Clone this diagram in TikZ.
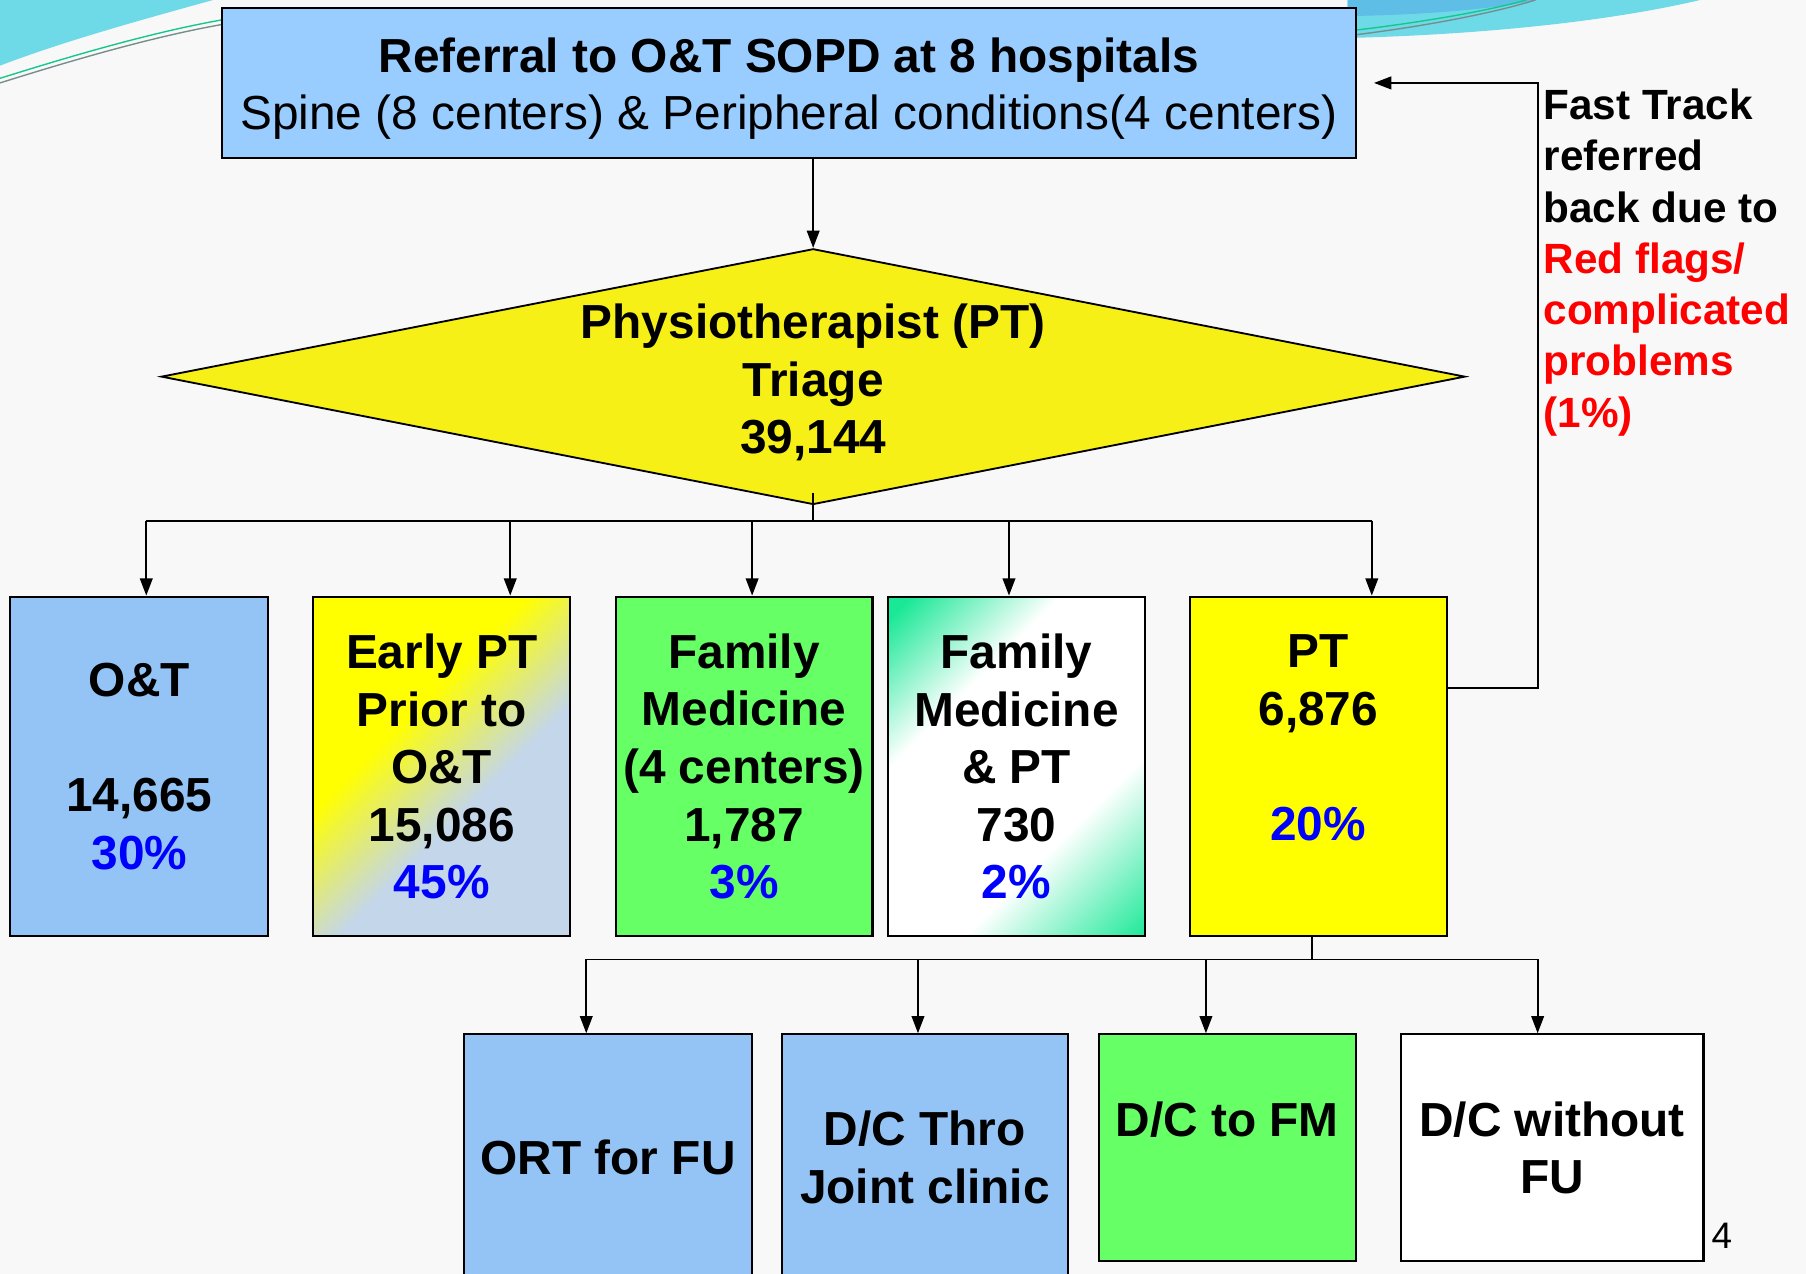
\documentclass[tikz,border=0pt]{standalone}
\usepackage{fontspec}
\setmainfont{Liberation Sans}
\usetikzlibrary{shapes.geometric,arrows.meta,calc}
\definecolor{topblue}{RGB}{153,204,255}
\definecolor{oblue}{RGB}{147,196,245}
\definecolor{diayellow}{RGB}{246,240,22}
\definecolor{ptyellow}{RGB}{255,255,0}
\definecolor{fmgreen}{RGB}{102,255,102}
\definecolor{spring}{RGB}{25,232,150}
\definecolor{greyblue}{RGB}{196,214,234}
\definecolor{pctblue}{RGB}{0,0,255}
\definecolor{flagred}{RGB}{255,0,0}
\definecolor{bgcol}{RGB}{248,248,248}
\definecolor{swcyan}{RGB}{110,218,232}
\definecolor{swblue}{RGB}{95,190,230}
\definecolor{swgreen}{RGB}{20,200,140}
\definecolor{swgrey}{RGB}{120,140,140}
\pgfdeclarehorizontalshading{earlypt}{100bp}{color(0bp)=(ptyellow); color(40bp)=(ptyellow); color(58bp)=(greyblue); color(100bp)=(greyblue)}
\pgfdeclarehorizontalshading{fmptshade}{100bp}{color(0bp)=(spring); color(17bp)=(spring); color(35bp)=(white); color(64bp)=(white); color(86bp)=(spring); color(100bp)=(spring)}
\begin{document}
\begin{tikzpicture}[x=1pt,y=-1pt,
  bigfont/.style={font=\bfseries\fontsize{41.5}{50}\selectfont},
  box/.style={draw=black, line width=1.8pt, inner sep=0pt, align=center, bigfont},
  rowone/.style={box, minimum width=223, minimum height=295},
  conn/.style={line width=1.6pt, draw=black},
  arr/.style={conn, -{Triangle[length=15pt,width=11pt]}}]
\useasboundingbox (0,0) rectangle (1568,1106);
\clip (0,0) rectangle (1568,1106);
\fill[bgcol] (0,0) rectangle (1568,1106);
% decorative swooshes
\fill[swcyan] (0,0) -- (185,0) .. controls (120,18) and (55,36) .. (0,57) -- cycle;
\draw[swgrey, line width=1.2pt] (0,72) .. controls (70,50) and (140,30) .. (200,20);
\draw[swgreen, line width=1.2pt] (0,68) .. controls (70,46) and (140,26) .. (200,16);
\fill[swcyan] (1170,0) -- (1476,0) .. controls (1400,18) and (1290,30) .. (1170,33) -- cycle;
\fill[swblue] (1170,0) -- (1335,0) .. controls (1290,9) and (1230,13) .. (1170,14) -- cycle;
\draw[swgreen, line width=1.2pt] (1170,27) .. controls (1230,20) and (1290,10) .. (1325,0);
\draw[swgrey, line width=1.2pt] (1170,31) .. controls (1230,24) and (1295,12) .. (1333,0);
% nodes
\node[box, fill=topblue, minimum width=984, minimum height=130] (top) at (685,72)
  {\rule{0pt}{40pt}Referral to O\&T SOPD at 8 hospitals\\{\mdseries Spine (8 centers) \& Peripheral conditions(4 centers)}};
\node[diamond, draw=black, line width=1.6pt, fill=diayellow, minimum width=1132, minimum height=222, inner sep=0pt] (dia) at (706,327) {};
\node[bigfont, align=center, inner sep=0pt] (diatext) at (706,332) {Physiotherapist (PT)\\Triage\\39,144};
\node[rowone, fill=oblue, minimum width=224] (ot) at (121,665.5) {O\&T\\\mbox{}\\14,665\\{\color{pctblue}30\%}};
\node[rowone, shading=earlypt, shading angle=-45] (early) at (383.5,665.5) {Early PT\\Prior to\\O\&T\\15,086\\{\color{pctblue}45\%}};
\node[rowone, fill=fmgreen] (fm) at (646,665.5) {Family\\Medicine\\(4 centers)\\1,787\\{\color{pctblue}3\%}};
\node[rowone, shading=fmptshade, shading angle=-45] (fmpt) at (882.5,665.5) {Family\\Medicine\\\& PT\\730\\{\color{pctblue}2\%}};
\node[rowone, fill=ptyellow] (pt) at (1144.5,665.5) {PT\\6,876\\\mbox{}\\{\color{pctblue}20\%}\\\mbox{}};
\node[box, fill=oblue, minimum width=250, minimum height=214] (ort) at (528,1005) {ORT for FU};
\node[box, fill=oblue, minimum width=248, minimum height=214] (joint) at (803,1005) {D/C Thro\\Joint clinic};
\node[box, fill=fmgreen, minimum width=223, minimum height=197] (dcfm) at (1065.5,996.5) {D/C to FM\\\mbox{}};
\node[box, fill=white, minimum width=263, minimum height=197] (dcwo) at (1347.5,996.5) {D/C without\\FU};
\node[anchor=north west, inner sep=0pt, align=left, font=\bfseries\fontsize{36.7}{44.5}\selectfont] (fast) at (1340,77)
  {Fast Track\\referred\\back due to\\{\color{flagred}Red flags/}\\{\color{flagred}complicated}\\{\color{flagred}problems}\\{\color{flagred}(1\%)}};
\node[font=\fontsize{32}{36}\selectfont, inner sep=0pt] (pg) at (1495,1073) {4};
% connectors
\draw[arr] (dia.north |- top.south) -- (dia.north);
\coordinate (j1) at (127,452);
\coordinate (j2) at (443,452);
\coordinate (j3) at (653,452);
\coordinate (j4) at (876,452);
\coordinate (j5) at (1191,452);
\draw[conn] ([yshift=11pt]dia.south) -- (dia.south |- j1);
\draw[conn] (j1) -- (j5);
\draw[arr] (j1) -- (ot.north -| j1);
\draw[arr] (j2) -- (early.north -| j2);
\draw[arr] (j3) -- (fm.north -| j3);
\draw[arr] (j4) -- (fmpt.north -| j4);
\draw[arr] (j5) -- (pt.north -| j5);
\coordinate (k0) at (1139,833);
\coordinate (k1) at (509,833);
\coordinate (k2) at (797,833);
\coordinate (k3) at (1047,833);
\coordinate (k4) at (1335,833);
\draw[conn] (pt.south -| k0) -- (k0);
\draw[conn] (k1) -- (k4);
\draw[arr] (k1) -- (ort.north -| k1);
\draw[arr] (k2) -- (joint.north -| k2);
\draw[arr] (k3) -- (dcfm.north -| k3);
\draw[arr] (k4) -- (dcwo.north -| k4);
\coordinate (fb) at (1335,597);
\draw[arr] (pt.east |- fb) -- (fb) |- ([xshift=15pt]top.east);
\end{tikzpicture}
\end{document}
